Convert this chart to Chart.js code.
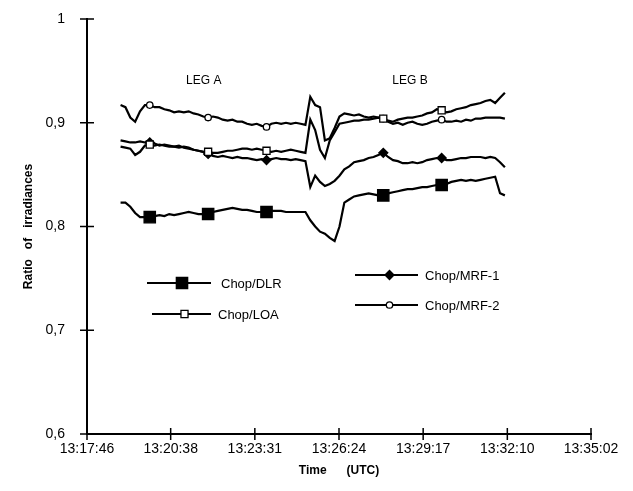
<!DOCTYPE html>
<html>
<head>
<meta charset="utf-8">
<script src="https://cdn.jsdelivr.net/npm/chart.js@4.4.1/dist/chart.umd.min.js"></script>
<style>
	html, body { margin: 0; padding: 0; background: #fff; }
	#wrap { width: 633px; height: 491px; }
</style>
</head>
<body>
<div id="wrap"><canvas id="chart" width="633" height="491"></canvas></div>
<script>
const tickLabels = ['13:17:46', '13:20:38', '13:23:31', '13:26:24', '13:29:17', '13:32:10', '13:35:02'];
const yTicks = [0.6, 0.7, 0.8, 0.9, 1];

const times = [
	'13:18:55', '13:19:05', '13:19:15', '13:19:25', '13:19:35', '13:19:45', '13:19:55', '13:20:05', '13:20:15', '13:20:25',
	'13:20:35', '13:20:45', '13:20:55', '13:21:05', '13:21:15', '13:21:25', '13:21:35', '13:21:45', '13:21:55', '13:22:05',
	'13:22:15', '13:22:25', '13:22:35', '13:22:45', '13:22:55', '13:23:05', '13:23:15', '13:23:25', '13:23:35', '13:23:45',
	'13:23:55', '13:24:05', '13:24:15', '13:24:25', '13:24:35', '13:24:45', '13:24:55', '13:25:05', '13:25:15', '13:25:25',
	'13:25:35', '13:25:45', '13:25:55', '13:26:05', '13:26:15', '13:26:25', '13:26:35', '13:26:45', '13:26:55', '13:27:05',
	'13:27:15', '13:27:25', '13:27:35', '13:27:45', '13:27:55', '13:28:05', '13:28:15', '13:28:25', '13:28:35', '13:28:45',
	'13:28:55', '13:29:05', '13:29:15', '13:29:25', '13:29:35', '13:29:45', '13:29:55', '13:30:05', '13:30:15', '13:30:25',
	'13:30:35', '13:30:45', '13:30:55', '13:31:05', '13:31:15', '13:31:25', '13:31:35', '13:31:45', '13:31:55', '13:32:05',
];
const markerTimes = ['13:19:55', '13:21:55', '13:23:55', '13:27:55', '13:29:55'];

const chopDLR = [
	0.823, 0.823, 0.819, 0.813, 0.809, 0.809, 0.809, 0.810, 0.811, 0.810,
	0.812, 0.811, 0.812, 0.813, 0.814, 0.813, 0.812, 0.812, 0.812, 0.814,
	0.815, 0.816, 0.817, 0.818, 0.817, 0.816, 0.816, 0.815, 0.814, 0.814,
	0.814, 0.815, 0.815, 0.815, 0.814, 0.814, 0.814, 0.814, 0.814, 0.806,
	0.800, 0.795, 0.793, 0.789, 0.786, 0.800, 0.823, 0.826, 0.829, 0.830,
	0.831, 0.832, 0.831, 0.830, 0.830, 0.832, 0.833, 0.834, 0.835, 0.836,
	0.836, 0.837, 0.838, 0.838, 0.839, 0.840, 0.840, 0.841, 0.843, 0.844,
	0.845, 0.844, 0.845, 0.844, 0.845, 0.846, 0.847, 0.848, 0.832, 0.830,
];
const chopLOA = [
	0.877, 0.876, 0.875, 0.869, 0.872, 0.878, 0.879, 0.878, 0.879, 0.878,
	0.877, 0.877, 0.876, 0.877, 0.876, 0.874, 0.873, 0.872, 0.872, 0.871,
	0.871, 0.872, 0.873, 0.873, 0.874, 0.875, 0.875, 0.874, 0.875, 0.874,
	0.873, 0.872, 0.873, 0.872, 0.873, 0.874, 0.873, 0.872, 0.871, 0.903,
	0.893, 0.874, 0.866, 0.883, 0.891, 0.899, 0.900, 0.901, 0.902, 0.902,
	0.903, 0.903, 0.904, 0.905, 0.904, 0.902, 0.901, 0.903, 0.904, 0.905,
	0.905, 0.906, 0.907, 0.909, 0.910, 0.913, 0.912, 0.910, 0.911, 0.913,
	0.914, 0.915, 0.917, 0.918, 0.919, 0.921, 0.922, 0.919, 0.924, 0.929,
];
const chopMRF1 = [
	0.883, 0.882, 0.881, 0.881, 0.882, 0.881, 0.881, 0.880, 0.878, 0.879,
	0.878, 0.877, 0.878, 0.876, 0.875, 0.874, 0.873, 0.872, 0.870, 0.868,
	0.867, 0.868, 0.867, 0.866, 0.867, 0.866, 0.866, 0.865, 0.864, 0.865,
	0.864, 0.865, 0.866, 0.865, 0.865, 0.864, 0.865, 0.864, 0.863, 0.838,
	0.849, 0.843, 0.839, 0.841, 0.844, 0.849, 0.855, 0.858, 0.862, 0.863,
	0.864, 0.866, 0.867, 0.869, 0.871, 0.867, 0.864, 0.863, 0.861, 0.861,
	0.862, 0.861, 0.862, 0.864, 0.865, 0.866, 0.866, 0.864, 0.864, 0.865,
	0.866, 0.866, 0.867, 0.867, 0.867, 0.866, 0.867, 0.866, 0.862, 0.857,
];
const chopMRF2 = [
	0.917, 0.915, 0.905, 0.901, 0.911, 0.917, 0.917, 0.915, 0.915, 0.913,
	0.912, 0.910, 0.911, 0.910, 0.911, 0.909, 0.908, 0.906, 0.905, 0.906,
	0.905, 0.903, 0.902, 0.903, 0.901, 0.901, 0.899, 0.898, 0.899, 0.897,
	0.896, 0.899, 0.900, 0.899, 0.900, 0.899, 0.900, 0.899, 0.898, 0.925,
	0.917, 0.915, 0.883, 0.885, 0.895, 0.906, 0.909, 0.908, 0.907, 0.908,
	0.906, 0.905, 0.906, 0.905, 0.904, 0.901, 0.899, 0.900, 0.898, 0.900,
	0.901, 0.899, 0.898, 0.899, 0.901, 0.902, 0.903, 0.901, 0.901, 0.902,
	0.901, 0.903, 0.902, 0.904, 0.904, 0.905, 0.905, 0.905, 0.905, 0.904,
];

const FONT = '"Liberation Sans", Arial, Helvetica, sans-serif';

function toSeconds(t) {
	const [h, m, s] = t.split(':').map(Number);
	return h * 3600 + m * 60 + s;
}

const tickSeconds = tickLabels.map(toSeconds);

function series(label, values, pointStyle, radius, fill) {
	return {
		label: label,
		data: values.map((v, i) => ({ x: toSeconds(times[i]), y: v })),
		borderColor: '#000',
		borderWidth: 2.2,
		tension: 0,
		pointStyle: pointStyle,
		markRadius: radius,
		pointRadius: (ctx) => (markerTimes.includes(times[ctx.dataIndex]) ? radius : 0),
		pointHoverRadius: 0,
		pointBackgroundColor: fill,
		pointBorderColor: '#000',
		pointBorderWidth: 1.3,
	};
}

// legend samples use the same shapes as the data markers
function drawMark(ctx, ds, x, y) {
	const r = ds.markRadius;
	ctx.save();
	ctx.fillStyle = ds.pointBackgroundColor;
	ctx.strokeStyle = '#000';
	ctx.lineWidth = 1.3;
	ctx.beginPath();
	if (ds.pointStyle === 'rect') {
		const s = Math.SQRT1_2 * r;
		ctx.rect(x - s, y - s, 2 * s, 2 * s);
	} else if (ds.pointStyle === 'rectRot') {
		ctx.moveTo(x - r, y);
		ctx.lineTo(x, y - r);
		ctx.lineTo(x + r, y);
		ctx.lineTo(x, y + r);
		ctx.closePath();
	} else {
		ctx.arc(x, y, r, 0, Math.PI * 2);
	}
	ctx.fill();
	ctx.stroke();
	ctx.restore();
}

const crossTicks = {
	id: 'crossTicks',
	afterDraw(chart) {
		const { ctx, scales: { x, y } } = chart;
		ctx.save();
		ctx.strokeStyle = '#000';
		ctx.lineWidth = 1.5;
		ctx.beginPath();
		x.ticks.forEach((t) => {
			const px = x.getPixelForValue(t.value);
			ctx.moveTo(px, y.bottom - 6);
			ctx.lineTo(px, y.bottom + 6);
		});
		y.ticks.forEach((t) => {
			const py = y.getPixelForValue(t.value);
			ctx.moveTo(x.left - 7, py);
			ctx.lineTo(x.left + 7, py);
		});
		ctx.stroke();
		ctx.restore();
	},
};

const legLabels = {
	id: 'legLabels',
	afterDraw(chart) {
		const { ctx, scales: { x, y } } = chart;
		ctx.save();
		ctx.fillStyle = '#000';
		ctx.font = '12px ' + FONT;
		ctx.textAlign = 'center';
		ctx.textBaseline = 'middle';
		ctx.fillText('LEG A', x.getPixelForValue(toSeconds('13:21:46')), y.getPixelForValue(0.941));
		ctx.fillText('LEG B', x.getPixelForValue(toSeconds('13:28:50')), y.getPixelForValue(0.941));
		ctx.restore();
	},
};

const sampleLegend = {
	id: 'sampleLegend',
	afterDraw(chart) {
		const { ctx } = chart;
		const rows = [
			{ ds: 0, x1: 147, x2: 211, y: 283, tx: 221 },
			{ ds: 1, x1: 152, x2: 211, y: 314, tx: 218 },
			{ ds: 2, x1: 355, x2: 418, y: 275, tx: 425 },
			{ ds: 3, x1: 355, x2: 418, y: 305, tx: 425 },
		];
		ctx.save();
		ctx.font = '13px ' + FONT;
		ctx.textBaseline = 'middle';
		ctx.textAlign = 'left';
		rows.forEach((row) => {
			const ds = chart.data.datasets[row.ds];
			ctx.strokeStyle = '#000';
			ctx.lineWidth = 2;
			ctx.beginPath();
			ctx.moveTo(row.x1, row.y);
			ctx.lineTo(row.x2, row.y);
			ctx.stroke();
			drawMark(ctx, ds, (row.x1 + row.x2) / 2 + 3, row.y);
			ctx.fillStyle = '#000';
			ctx.fillText(ds.label, row.tx, row.y + 1);
		});
		ctx.restore();
	},
};

new Chart(document.getElementById('chart'), {
	type: 'line',
	data: {
		datasets: [
			series('Chop/DLR', chopDLR, 'rect', 8, '#000'),
			series('Chop/LOA', chopLOA, 'rect', 5, '#fff'),
			series('Chop/MRF-1', chopMRF1, 'rectRot', 4.5, '#000'),
			series('Chop/MRF-2', chopMRF2, 'circle', 3.2, '#fff'),
		],
	},
	plugins: [crossTicks, legLabels, sampleLegend],
	options: {
		responsive: false,
		animation: false,
		layout: { padding: { top: 19, right: 42, bottom: 0, left: 0 } },
		plugins: {
			legend: { display: false },
			tooltip: { enabled: false },
		},
		scales: {
			x: {
				type: 'linear',
				min: tickSeconds[0],
				max: tickSeconds[tickSeconds.length - 1],
				afterBuildTicks: (scale) => {
					scale.ticks = tickSeconds.map((v) => ({ value: v }));
				},
				afterFit: (scale) => {
					scale.height = 57;
				},
				grid: { display: false, drawTicks: false },
				border: { display: true, color: '#000', width: 2 },
				ticks: {
					autoSkip: false,
					maxRotation: 0,
					padding: 7,
					color: '#000',
					font: { family: FONT, size: 14 },
					callback: (value, index) => tickLabels[index],
				},
				title: {
					display: true,
					text: 'Time      (UTC)',
					color: '#000',
					font: { family: FONT, size: 12, weight: 'bold' },
					padding: { top: 0, bottom: 13 },
				},
			},
			y: {
				type: 'linear',
				min: 0.6,
				max: 1,
				afterBuildTicks: (scale) => {
					scale.ticks = yTicks.map((v) => ({ value: v }));
				},
				afterFit: (scale) => {
					scale.width = 87;
					scale.paddingTop = 0;
					scale.paddingBottom = 0;
				},
				grid: { display: false, drawTicks: false },
				border: { display: true, color: '#000', width: 2 },
				ticks: {
					padding: 22,
					color: '#000',
					font: { family: FONT, size: 14 },
					callback: (value) => (value === 1 ? '1' : value.toFixed(1).replace('.', ',')),
				},
				title: {
					display: true,
					text: 'Ratio   of   irradiances',
					color: '#000',
					font: { family: FONT, size: 12, weight: 'bold' },
					padding: { top: 21, bottom: 0 },
				},
			},
		},
	},
});
</script>
</body>
</html>
